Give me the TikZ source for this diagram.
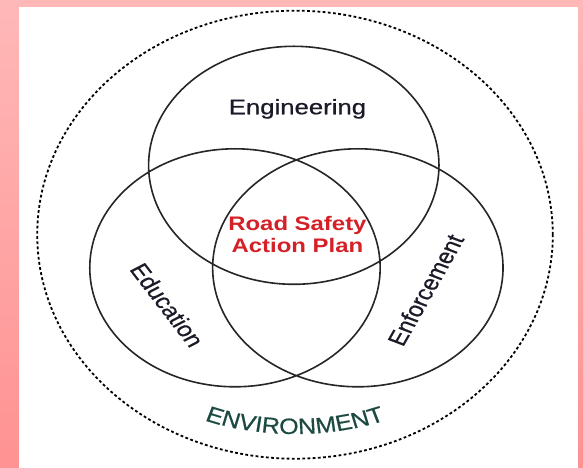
\documentclass[tikz,border=0pt]{standalone}
\usepackage{fontspec}
\setmainfont{Liberation Sans}
\newfontfamily\heavyfont[FakeBold=0.5]{Liberation Sans}
\definecolor{bgtop}{RGB}{255,184,184}
\definecolor{bgbot}{RGB}{255,146,146}
\definecolor{rsred}{RGB}{212,32,38}
\definecolor{envgreen}{RGB}{28,74,66}
\definecolor{inkdark}{RGB}{26,26,40}
\tikzset{
	ring/.style={line width=1.6pt,draw=black!85},
	envring/.style={line width=1.8pt,dash pattern=on 2.8pt off 2.4pt},
	pillar/.style={text=inkdark,font=\heavyfont\fontsize{21.1}{24}\selectfont},
	envletter/.style={text=envgreen,font=\heavyfont\fontsize{20.5}{24}\selectfont,anchor=base,inner sep=0pt,yscale=1.08}
}
\begin{document}
\begin{tikzpicture}[x=1pt,y=1pt]
	\useasboundingbox (0,0) rectangle (583,468);
	\shade[top color=bgtop,bottom color=bgbot] (0,0) rectangle (583,468);
	\fill[white] (19,0) rectangle (578,461);
	\begin{scope}[shift={(295,0)},xscale=1.22,transform shape]
		\def\r{119pt}
		\path
		(0,233.3) coordinate (O)
		(-1,302.7) coordinate (Eng)
		(-49.2,200.2) coordinate (Edu)
		(51.5,200.2) coordinate (Enf)
		(0,244) coordinate (M)
		;
		\draw[envring] (O) ellipse [x radius=211.3pt,y radius=224pt];
		\draw[ring] (Eng) circle (\r) (Edu) circle (\r) (Enf) circle (\r);
		\node[pillar,anchor=base] (eng) at (2,353.7) {Engineering};
		\node[pillar,rotate=-57.7] (edu) at (-104.7,163) {Education};
		\node[pillar,rotate=65] (enf) at (107,178) {Enforcement};
		\node[text=rsred,font=\bfseries\fontsize{19.6}{21.3}\selectfont,align=center,inner sep=0pt] (plan) at (2,233.6) {Road Safety\\Action Plan};
		\foreach \c/\a [count=\i] in {E/-18.80,N/-14.92,V/-11.03,I/-8.39,R/-5.59,O/-1.40,N/2.80,M/7.15,E/11.34,N/15.22,T/18.95}
		\path (M) +(270+\a:210) node[envletter,rotate=\a] (env\i) {\c};
	\end{scope}
\end{tikzpicture}
\end{document}
